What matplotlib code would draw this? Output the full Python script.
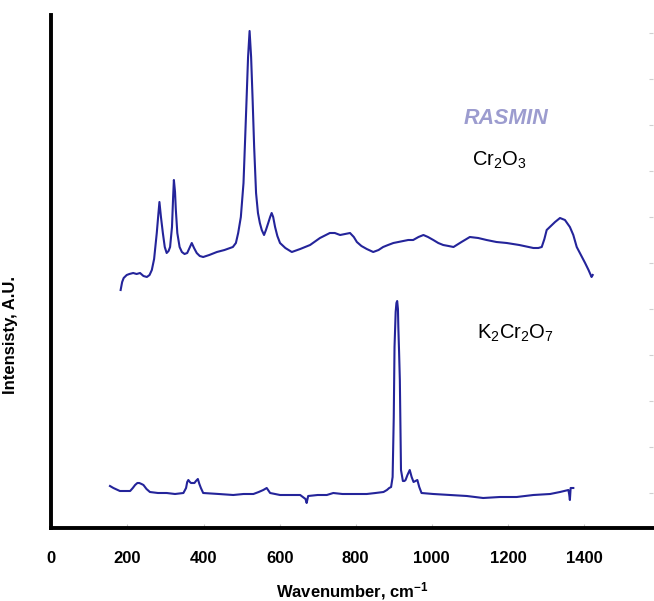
import matplotlib
matplotlib.use("Agg")
import matplotlib.pyplot as plt

plt.rcParams['font.family'] = ['Liberation Sans', 'DejaVu Sans']
plt.rcParams['mathtext.fontset'] = 'custom'
plt.rcParams['mathtext.rm'] = 'Liberation Sans'
plt.rcParams['mathtext.it'] = 'Liberation Sans:italic'
plt.rcParams['mathtext.bf'] = 'Liberation Sans:bold'

# ---- data (wavenumber cm-1, intensity a.u.) ----
cr2o3_wn = [182, 186, 190, 198, 205, 215, 224, 233, 242, 251, 258, 264, 270, 277, 281, 284,
            288, 293, 298, 303, 308, 312, 317, 320, 322, 325, 327, 331, 337, 343,
            350, 357, 363, 369, 375, 382, 390, 399, 415, 435, 455, 477, 485, 491, 498, 505,
            509, 513, 517, 521, 525, 529, 533, 538, 543, 548, 553, 559, 564, 570, 575, 579,
            583, 588, 594, 601, 615, 632, 654, 680, 706, 732, 745, 759, 772, 785, 795, 803,
            815, 829, 846, 860, 872, 885, 899, 912, 925, 938, 951, 965, 978, 990, 1004, 1017,
            1030, 1044, 1057, 1078, 1100, 1122, 1144, 1170, 1197, 1230, 1267, 1280, 1289,
            1296, 1302, 1313, 1324, 1337, 1350, 1363, 1372, 1381, 1392, 1403, 1412, 1420, 1423]
cr2o3_I = [237, 245, 249, 252, 253, 254, 253, 254, 251, 250, 252, 257, 268, 294, 312, 325,
           310, 294, 280, 274, 276, 280, 300, 330, 347, 335, 318, 294, 280, 275,
           273, 274, 279, 284, 279, 274, 271, 270, 272, 275, 277, 280, 284, 294, 310, 344,
           385, 427, 470, 496, 470, 427, 380, 334, 314, 304, 297, 292, 297, 304, 310, 314,
           310, 300, 291, 284, 279, 275, 278, 282, 289, 294, 294, 292, 293, 294, 290, 285,
           281, 278, 275, 277, 280, 282, 284, 285, 286, 287, 287, 290, 292, 290, 287, 284,
           282, 281, 280, 285, 290, 289, 287, 285, 284, 282, 279, 279, 280,
           288, 297, 301, 305, 309, 307, 300, 292, 280, 272, 264, 257, 250, 252]

k2cr2o7_wn = [154, 163, 180, 195, 207, 214, 220, 226, 231, 237, 242, 250, 259, 280, 303, 325,
              347, 354, 357, 360, 364, 367, 372, 376, 380, 385, 389, 393, 399, 440, 478, 505,
              531, 545, 557, 566, 575, 601, 630, 654, 668, 671, 675, 700, 724, 741, 765, 785,
              808, 829, 852, 873, 882, 888, 893, 897, 900, 902, 905, 907, 909, 911, 912, 914,
              916, 919, 924, 928, 931, 936, 942, 947, 952, 957, 962, 967, 973, 1004, 1048,
              1092, 1135, 1179, 1223, 1267, 1311, 1337, 1359, 1361, 1363, 1365, 1372]
k2cr2o7_I = [41, 39, 36, 36, 36, 39, 42, 44, 44, 43, 42, 38, 35, 34, 34, 33,
             34, 39, 45, 47, 45, 44, 44, 44, 46, 48, 43, 39, 34, 33, 32, 33,
             33, 35, 37, 39, 34, 32, 32, 32, 28, 24, 31, 32, 32, 34, 33, 33,
             33, 33, 34, 35, 37, 39, 40, 50, 110, 180, 215, 224, 226, 218, 200, 175,
             147, 57, 46, 46, 47, 52, 57, 50, 45, 46, 47, 40, 34, 33, 32,
             31, 29, 30, 30, 32, 33, 35, 37, 33, 27, 39, 39]

x_ticks = [0, 200, 400, 600, 800, 1000, 1200, 1400]
right_ticks = [34, 80, 126, 172, 218, 264, 310, 356, 402, 448, 494]

line_color = '#24249a'

fig = plt.figure(figsize=(6.54, 6.01), dpi=100)
ax = fig.add_axes([51.4 / 654, (601 - 527.5) / 601, (653 - 51.4) / 654, (527.5 - 15) / 601])

ax.plot(cr2o3_wn, cr2o3_I, color=line_color, lw=1.5)
ax.plot(k2cr2o7_wn, k2cr2o7_I, color=line_color, lw=1.5)

ax.set_xlim(0, (653 - 51.4) / 0.3804)
ax.set_ylim(-0.5, 512)

for s in ['top', 'right']:
    ax.spines[s].set_visible(False)
for s in ['left', 'bottom']:
    ax.spines[s].set_linewidth(2.8)
    ax.spines[s].set_color('black')

ax.set_xticks(x_ticks)
ax.set_xticklabels([str(t) for t in x_ticks], fontsize=12, fontweight='bold')
ax.tick_params(axis='x', direction='in', length=3, width=0.8, color='#c8c8c8', pad=17)
ax.set_yticks(right_ticks)
ax.tick_params(axis='y', which='both', left=False, labelleft=False, right=True,
               direction='in', length=3, width=0.8, color='#d0d0d0')

ax.set_xlabel('Wavenumber, cm$^{\\mathbf{-1}}$', fontsize=12, fontweight='bold', labelpad=10)
ax.set_ylabel('Intensisty, A.U.', fontsize=12, fontweight='bold')
ax.yaxis.set_label_coords(-0.056, 0.375)

ax.text(1195, 408, 'RASMIN', fontsize=15.5, fontweight='bold', fontstyle='italic',
        color='#9c9ccf', ha='center', va='center')
ax.text(1178, 367, 'Cr$_2$O$_3$', fontsize=14.5, color='black', ha='center', va='center')
ax.text(1219, 194, 'K$_2$Cr$_2$O$_7$', fontsize=14.5, color='black', ha='center', va='center')

fig.savefig('out.png', dpi=100)
